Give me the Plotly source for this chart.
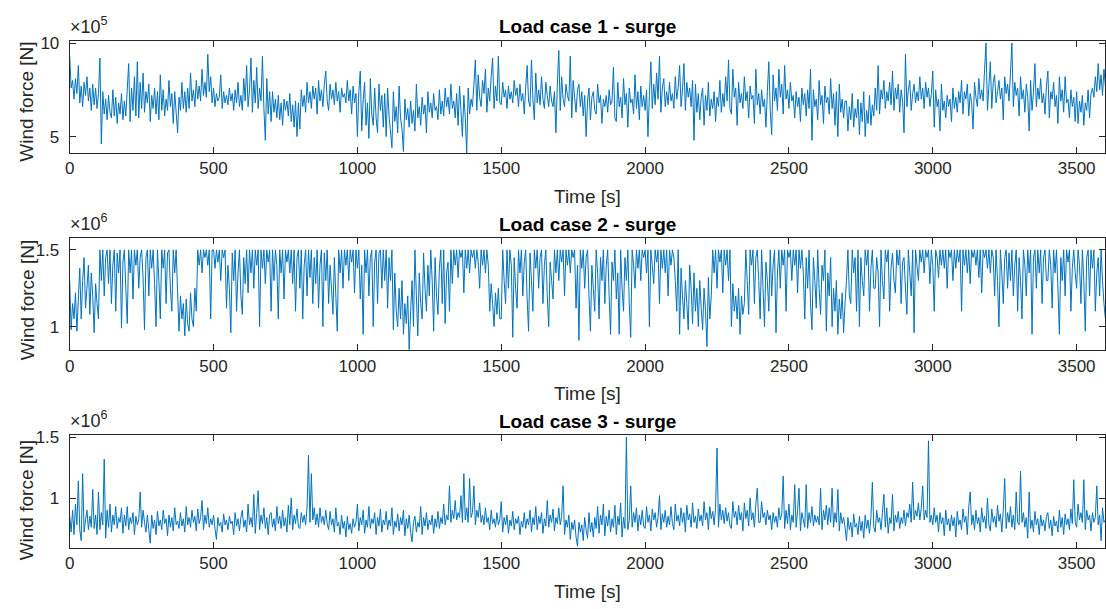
import plotly.graph_objects as go

# ---------------- data (5 s sampling) ----------------
DT = 5  # seconds between samples

# Load case 1 - surge, wind force in units of 1e5 N
surge1_1e5 = [
    9.3, 7.6, 8.0, 7.0, 8.1, 7.3, 8.8, 6.8, 7.7, 6.6, 7.9, 7.2, 8.2, 6.9, 7.6, 6.4, 7.8, 6.7, 7.6, 6.5,
    7.3, 9.2, 4.6, 7.4, 6.2, 7.0, 5.9, 7.2, 6.3, 6.0, 7.5, 6.1, 7.1, 5.7, 6.8, 6.2, 7.3, 5.9, 6.9, 6.1,
    7.5, 8.9, 5.8, 7.6, 6.4, 8.2, 6.1, 9.0, 6.0, 7.9, 6.5, 8.4, 6.3, 7.4, 6.8, 7.8, 5.8, 7.2, 6.5, 7.6,
    6.2, 7.4, 5.9, 8.3, 6.4, 7.5, 6.1, 7.0, 6.4, 8.0, 6.6, 7.3, 5.7, 7.4, 6.3, 5.2, 7.1, 6.4, 7.9, 6.5,
    7.4, 6.3, 7.6, 6.5, 8.4, 6.9, 7.5, 6.6, 8.0, 7.0, 7.7, 6.9, 8.6, 7.2, 7.9, 7.1, 9.4, 7.4, 8.2, 6.8,
    7.6, 6.6, 7.3, 6.9, 7.1, 8.3, 6.5, 7.4, 6.8, 7.2, 6.7, 7.6, 6.9, 7.3, 6.4, 7.5, 6.8, 7.9, 6.6, 7.2,
    6.4, 8.1, 6.9, 8.8, 6.6, 7.5, 9.2, 6.3, 8.0, 6.8, 8.7, 6.5, 7.6, 6.9, 9.3, 6.5, 4.8, 8.1, 6.2, 7.4,
    5.8, 7.4, 6.3, 7.0, 6.0, 7.2, 5.9, 6.8, 5.6, 7.0, 6.4, 6.9, 6.1, 7.3, 5.8, 6.7, 5.5, 6.9, 5.0, 6.8,
    5.4, 7.5, 6.6, 7.2, 6.3, 7.9, 6.8, 7.4, 6.5, 7.7, 7.0, 7.6, 6.2, 8.0, 6.9, 7.5, 6.6, 7.8, 8.5, 6.9,
    6.4, 7.8, 7.0, 7.5, 6.7, 7.9, 6.9, 7.4, 6.3, 7.6, 7.1, 7.3, 6.8, 8.0, 6.9, 7.5, 6.2, 7.7, 6.8, 7.3,
    5.0, 7.4, 8.5, 5.3, 6.9, 7.9, 5.6, 6.8, 4.9, 8.1, 6.2, 5.6, 7.6, 6.0, 5.2, 7.8, 6.4, 7.2, 5.5, 7.3,
    5.0, 7.6, 6.1, 5.3, 4.4, 7.4, 5.8, 6.6, 5.2, 7.7, 6.0, 5.4, 4.2, 7.0, 5.9, 6.5, 5.5, 6.9, 5.7, 6.4,
    5.3, 7.8, 6.0, 6.6, 5.6, 7.1, 6.2, 6.7, 5.2, 7.4, 6.3, 6.8, 6.0, 7.3, 6.4, 6.6, 5.9, 7.5, 6.2, 6.9,
    6.1, 7.6, 6.6, 7.1, 6.2, 7.8, 6.5, 6.9, 6.0, 7.3, 5.6, 7.7, 6.4, 5.0, 7.2, 6.0, 4.1, 7.6, 6.2, 7.0,
    6.6, 7.8, 9.1, 6.4, 8.3, 7.1, 6.6, 8.0, 7.3, 8.6, 6.3, 7.6, 6.9, 8.2, 9.2, 6.5, 7.7, 6.9, 9.3, 6.8,
    6.7, 7.9, 7.1, 7.5, 6.5, 7.7, 7.0, 7.4, 6.8, 8.0, 7.2, 7.6, 6.6, 7.8, 6.9, 7.3, 6.2, 7.6, 8.8, 6.9,
    6.6, 9.1, 7.0, 5.9, 8.4, 6.8, 7.5, 6.7, 8.2, 7.0, 6.5, 7.9, 7.2, 6.6, 7.7, 6.9, 6.6, 7.4, 5.2, 7.8,
    9.6, 6.4, 8.2, 7.0, 6.6, 7.8, 7.2, 6.9, 9.3, 6.0, 8.0, 7.1, 6.3, 7.5, 7.8, 6.6, 7.4, 6.1, 7.2, 5.0,
    6.9, 7.6, 5.9, 7.1, 7.4, 6.4, 6.2, 7.8, 6.8, 7.2, 5.7, 7.0, 6.6, 7.2, 6.3, 7.5, 6.7, 6.9, 8.7, 6.0,
    5.8, 7.9, 6.6, 7.1, 6.0, 8.1, 6.7, 7.3, 5.5, 7.6, 6.8, 7.0, 6.2, 8.3, 6.5, 7.4, 5.9, 7.7, 6.6, 7.2,
    6.4, 7.5, 5.0, 7.2, 9.0, 6.5, 7.8, 6.7, 8.4, 7.0, 9.3, 6.3, 7.6, 8.1, 6.6, 7.4, 6.7, 7.9, 6.9, 7.3,
    6.5, 8.2, 7.0, 7.6, 8.8, 6.6, 7.5, 8.9, 6.4, 7.9, 7.1, 7.6, 6.6, 8.0, 4.8, 7.8, 6.3, 7.3, 5.9, 7.1,
    7.6, 5.6, 7.2, 6.4, 7.9, 6.1, 7.0, 6.5, 7.4, 5.8, 7.1, 6.6, 8.0, 6.3, 7.3, 6.6, 8.2, 6.9, 9.1, 6.5,
    6.2, 8.6, 7.1, 7.6, 5.6, 7.9, 6.8, 7.3, 6.5, 8.2, 6.9, 7.4, 6.0, 7.7, 7.0, 7.2, 5.7, 8.6, 6.7, 7.3,
    6.2, 7.5, 6.6, 7.0, 5.5, 7.4, 9.0, 6.4, 5.1, 8.3, 6.9, 7.6, 6.4, 8.6, 7.1, 7.8, 6.2, 8.8, 7.0, 7.5,
    6.5, 7.9, 6.9, 7.2, 6.0, 7.4, 6.6, 7.1, 5.8, 7.6, 6.7, 7.3, 6.1, 7.5, 6.5, 8.6, 4.8, 7.5, 6.6, 7.0,
    5.9, 8.0, 6.7, 7.2, 5.7, 7.7, 6.8, 7.1, 6.2, 8.1, 6.5, 7.3, 5.6, 7.4, 5.0, 7.8, 6.3, 7.0, 6.0, 6.9,
    6.9, 5.3, 6.6, 5.9, 7.3, 5.5, 6.5, 6.0, 7.0, 5.1, 6.8, 5.8, 7.4, 5.0, 6.4, 5.7, 7.2, 5.6, 6.7, 6.1,
    7.6, 6.4, 8.8, 6.2, 7.5, 7.0, 8.0, 6.5, 7.4, 6.9, 7.9, 6.7, 8.5, 6.4, 7.6, 7.0, 7.8, 6.3, 7.5, 6.9,
    5.2, 9.4, 6.6, 7.5, 8.0, 6.4, 7.3, 7.8, 6.8, 7.4, 6.9, 8.2, 7.0, 7.6, 6.5, 7.9, 7.1, 7.6, 6.6, 7.3,
    8.5, 5.5, 7.5, 6.6, 7.0, 5.3, 7.8, 6.4, 6.9, 6.0, 7.2, 6.6, 7.0, 5.8, 7.6, 6.5, 7.1, 6.3, 7.4, 6.8,
    8.0, 6.2, 7.4, 7.0, 7.8, 6.1, 7.3, 6.8, 5.4, 7.9, 7.1, 6.6, 8.1, 7.0, 7.5, 6.9, 8.6, 10.0, 6.4, 7.7,
    9.0, 6.5, 7.9, 8.3, 6.8, 7.4, 8.0, 7.0, 7.6, 5.9, 8.2, 7.3, 7.8, 6.9, 8.4, 10.0, 6.6, 7.9, 7.2, 7.6,
    6.1, 8.2, 7.0, 7.5, 6.3, 7.8, 7.1, 5.3, 8.0, 6.4, 7.4, 8.9, 6.6, 7.6, 7.0, 8.1, 6.8, 7.3, 6.2, 7.7,
    8.5, 6.0, 7.4, 7.0, 7.9, 6.6, 7.2, 5.7, 8.2, 6.9, 7.5, 6.3, 8.2, 6.8, 7.0, 6.0, 7.5, 6.6, 7.1, 5.8,
    7.4, 5.7, 6.9, 6.3, 7.2, 5.6, 6.8, 6.4, 7.5, 6.0, 7.3, 7.6, 7.1, 8.2, 7.4, 8.9, 7.5, 8.3, 7.2, 8.6,
    7.7,
]

# Load case 2 - surge, wind force in units of 1e6 N
surge2_1e6 = [
    1.30, 0.98, 1.15, 1.05, 1.22, 0.97, 1.18, 1.38, 1.05, 1.30, 1.45, 1.12, 1.25, 1.40, 1.08, 1.35, 1.20, 0.96, 1.28, 1.15,
    1.05, 1.50, 1.30, 1.50, 1.20, 1.45, 1.50, 1.28, 1.50, 1.15, 1.40, 1.50, 1.10, 1.48, 1.35, 1.50, 0.99, 1.42, 1.50, 1.25,
    1.02, 1.50, 1.35, 1.50, 1.18, 1.50, 1.40, 1.50, 1.25, 1.45, 1.50, 1.32, 0.98, 1.45, 1.50, 1.20, 1.50, 1.38, 1.50, 1.28,
    1.00, 1.50, 1.30, 1.05, 1.50, 1.38, 1.50, 1.15, 1.48, 1.50, 1.25, 1.10, 1.50, 1.35, 1.50, 1.22, 0.97, 1.20, 1.05, 1.15,
    0.94, 1.18, 1.02, 0.97, 1.22, 1.05, 1.00, 1.25, 1.10, 1.50, 1.40, 1.50, 1.35, 1.50, 1.45, 1.50, 1.40, 1.50, 1.05, 1.50,
    1.50, 1.38, 1.50, 1.42, 1.50, 1.30, 1.50, 1.45, 1.50, 1.12, 1.40, 1.25, 0.96, 1.48, 1.30, 1.50, 1.10, 1.35, 1.50, 1.20,
    1.08, 1.45, 1.28, 1.50, 1.22, 1.50, 1.35, 1.50, 1.25, 1.50, 1.40, 1.50, 1.00, 1.50, 1.38, 1.50, 1.28, 1.50, 1.42, 1.50,
    1.10, 1.50, 1.30, 1.50, 1.40, 1.05, 1.50, 1.35, 1.50, 1.18, 1.50, 1.42, 1.50, 1.35, 1.50, 1.28, 1.50, 1.10, 1.45, 1.50,
    1.25, 1.50, 1.05, 1.40, 1.50, 1.20, 1.50, 1.32, 1.50, 1.15, 1.45, 1.28, 1.50, 1.12, 1.40, 1.50, 1.00, 1.48, 1.30, 1.50,
    1.15, 1.40, 1.25, 1.08, 1.45, 1.20, 0.97, 1.50, 1.35, 1.50, 1.25, 1.50, 1.40, 1.50, 1.30, 1.50, 1.42, 1.50, 1.22, 1.50,
    1.38, 1.50, 1.18, 1.40, 0.95, 1.50, 1.35, 1.50, 1.20, 1.45, 1.50, 1.00, 1.42, 1.50, 1.15, 1.48, 1.50, 1.25, 1.50, 1.30,
    1.50, 1.12, 1.45, 1.30, 1.50, 0.98, 1.35, 1.10, 1.00, 1.25, 1.05, 1.30, 0.95, 1.15, 1.02, 1.20, 0.85, 1.10, 1.30, 1.00,
    1.50, 1.20, 0.94, 1.35, 1.15, 1.05, 1.48, 1.25, 1.10, 1.40, 1.20, 1.50, 1.30, 0.97, 1.45, 1.20, 1.08, 1.38, 1.50, 1.15,
    1.50, 1.02, 1.35, 1.42, 1.10, 1.50, 1.28, 1.50, 1.40, 1.50, 1.32, 1.50, 1.45, 1.50, 1.22, 1.50, 1.38, 1.50, 1.35, 1.50,
    1.45, 1.50, 1.38, 1.50, 1.42, 1.25, 1.50, 1.40, 1.50, 1.35, 1.50, 1.40, 1.10, 1.28, 1.15, 1.00, 1.22, 1.08, 1.25, 1.05,
    1.05, 1.50, 1.30, 1.15, 1.50, 1.25, 1.50, 1.40, 0.93, 1.45, 1.25, 1.12, 1.50, 1.35, 1.50, 1.20, 1.42, 1.50, 1.18, 0.97,
    1.48, 1.30, 1.10, 1.50, 1.38, 1.50, 1.25, 1.45, 1.50, 1.15, 1.40, 1.50, 1.20, 1.00, 1.42, 1.30, 1.18, 1.50, 1.35, 1.50,
    1.30, 1.50, 1.42, 1.50, 1.20, 1.50, 1.40, 1.50, 1.35, 1.50, 1.45, 1.50, 1.12, 1.40, 0.91, 1.50, 1.38, 1.50, 1.25, 1.45,
    1.50, 1.20, 0.97, 1.40, 1.25, 1.10, 1.50, 1.35, 1.05, 1.45, 1.30, 1.50, 1.15, 1.40, 1.50, 1.20, 0.95, 1.42, 1.30, 1.50,
    1.18, 1.35, 0.95, 1.50, 1.25, 1.10, 1.45, 1.30, 1.50, 1.15, 0.93, 1.50, 1.40, 1.25, 1.50, 1.38, 1.50, 1.30, 1.50, 1.45,
    1.50, 1.35, 1.50, 1.00, 1.50, 1.40, 1.28, 1.50, 1.42, 1.50, 1.15, 1.50, 1.38, 1.50, 1.35, 1.50, 1.20, 1.50, 1.40, 1.50,
    1.45, 1.30, 1.10, 1.50, 0.95, 1.38, 1.20, 1.05, 1.30, 1.15, 0.98, 1.40, 1.25, 1.02, 1.35, 1.10, 1.25, 1.00, 1.30, 1.12,
    0.98, 1.25, 1.10, 0.87, 1.32, 1.05, 1.20, 1.50, 1.35, 1.50, 1.25, 1.50, 1.42, 1.50, 1.22, 1.50, 1.40, 1.50, 1.30, 1.50,
    1.00, 1.28, 1.10, 1.20, 1.05, 1.25, 0.95, 1.20, 1.08, 1.15, 1.50, 1.30, 1.08, 1.50, 1.40, 1.50, 1.15, 1.45, 1.50, 1.30,
    1.05, 1.50, 1.25, 1.00, 1.42, 1.30, 1.10, 1.50, 1.20, 1.40, 1.50, 0.96, 1.35, 1.50, 1.25, 1.50, 1.40, 1.50, 1.10, 1.50,
    1.45, 1.50, 1.30, 1.50, 1.40, 1.50, 1.22, 1.50, 1.38, 1.50, 1.35, 1.05, 1.45, 1.25, 1.50, 1.15, 0.98, 1.45, 1.30, 1.12,
    1.50, 1.25, 1.08, 1.40, 1.30, 1.50, 0.97, 1.35, 1.20, 1.45, 1.00, 1.25, 1.10, 1.30, 0.95, 1.18, 1.05, 1.22, 0.96, 1.15,
    1.30, 1.50, 1.20, 1.15, 1.50, 1.35, 1.45, 1.10, 1.50, 1.00, 1.45, 1.30, 1.20, 1.50, 1.40, 1.50, 1.10, 1.38, 1.50, 1.25,
    1.25, 1.45, 1.35, 1.00, 1.50, 1.30, 1.18, 1.50, 1.42, 1.50, 1.10, 1.38, 1.48, 1.30, 1.22, 1.50, 1.40, 1.50, 1.15, 1.42,
    1.45, 1.25, 1.08, 1.50, 1.35, 1.20, 1.50, 0.96, 1.50, 1.40, 1.30, 1.50, 1.42, 1.50, 1.35, 1.50, 1.45, 1.50, 1.28, 1.50,
    1.40, 1.10, 1.50, 1.45, 1.32, 1.50, 1.40, 1.50, 1.38, 1.50, 1.25, 1.50, 1.45, 1.50, 1.30, 1.50, 1.38, 1.50, 1.42, 1.50,
    1.10, 1.50, 1.40, 1.50, 1.35, 1.50, 1.28, 1.50, 1.45, 1.50, 1.40, 1.50, 1.32, 1.50, 1.22, 1.50, 1.45, 1.50, 1.38, 1.50,
    1.35, 1.50, 1.45, 1.20, 1.50, 1.30, 1.00, 1.50, 1.35, 1.15, 1.45, 1.50, 1.25, 1.48, 1.30, 1.50, 1.20, 1.40, 1.50, 1.10,
    1.45, 1.30, 1.05, 1.50, 1.40, 1.20, 1.50, 1.35, 1.50, 0.95, 1.45, 1.50, 1.25, 1.50, 1.35, 1.50, 1.15, 1.45, 1.50, 1.30,
    1.30, 1.50, 1.40, 1.12, 1.50, 1.35, 1.50, 1.25, 0.95, 1.45, 1.30, 1.50, 1.20, 1.50, 1.42, 1.50, 1.10, 1.38, 1.50, 1.35,
    1.25, 1.50, 1.40, 1.15, 1.50, 1.30, 0.97, 1.45, 1.50, 1.20, 1.50, 1.38, 1.50, 1.10, 1.35, 1.45, 1.20, 1.50, 1.30, 1.15,
    1.05,
]

# Load case 3 - surge, wind force in units of 1e6 N
surge3_1e6 = [
    0.85, 0.72, 0.90, 0.70, 0.95, 0.78, 1.14, 0.74, 0.65, 1.20, 0.72, 0.82, 0.90, 0.74, 0.85, 0.76, 1.07, 0.75, 0.86, 0.70,
    1.05, 0.74, 0.88, 0.78, 1.32, 0.67, 0.90, 0.76, 0.95, 0.72, 0.86, 0.78, 0.93, 0.75, 0.84, 0.80, 0.92, 0.71, 0.86, 0.77,
    0.93, 0.74, 0.84, 0.79, 0.88, 0.70, 0.85, 0.78, 0.82, 1.05, 0.76, 0.90, 0.80, 0.72, 0.86, 0.74, 0.63, 0.86, 0.75, 0.82,
    0.70, 0.89, 0.77, 0.82, 0.74, 0.90, 0.79, 0.83, 0.69, 0.86, 0.76, 0.84, 0.73, 0.92, 0.78, 0.81, 0.75, 0.88, 0.77, 0.83,
    0.72, 0.93, 0.78, 0.84, 0.76, 0.90, 0.80, 0.85, 0.73, 0.91, 0.79, 0.84, 0.98, 0.74, 0.86, 0.79, 0.92, 0.76, 0.83, 0.78,
    0.86, 0.75, 0.66, 0.84, 0.77, 0.80, 0.72, 0.87, 0.78, 0.82, 0.74, 0.85, 0.79, 0.81, 0.70, 0.88, 0.77, 0.83, 0.73, 0.84,
    0.90, 0.76, 0.82, 0.72, 0.95, 0.78, 0.84, 0.76, 1.03, 0.71, 0.88, 1.06, 0.74, 0.86, 0.79, 0.92, 0.75, 0.84, 0.70, 0.86,
    0.88, 0.76, 0.83, 0.73, 0.93, 0.79, 0.85, 0.75, 0.90, 0.77, 0.84, 0.72, 0.94, 0.78, 1.00, 0.74, 0.86, 0.79, 0.91, 0.76,
    0.75, 0.88, 0.80, 0.86, 0.78, 0.92, 1.35, 0.80, 1.20, 0.82, 0.92, 0.78, 0.87, 0.76, 0.92, 0.80, 0.85, 0.78, 0.90, 0.79,
    0.74, 0.89, 0.78, 0.83, 0.72, 0.92, 0.77, 0.80, 0.70, 0.86, 0.75, 0.81, 0.68, 0.85, 0.74, 0.79, 0.71, 0.83, 0.76, 0.80,
    0.95, 0.73, 0.84, 0.78, 0.90, 0.71, 0.82, 0.76, 0.93, 0.75, 0.83, 0.79, 0.88, 0.70, 0.84, 0.77, 0.91, 0.72, 0.82, 0.78,
    0.89, 0.74, 0.82, 0.77, 0.92, 0.70, 0.81, 0.76, 0.87, 0.73, 0.84, 0.78, 0.90, 0.69, 0.83, 0.75, 0.86, 0.72, 0.64, 0.80,
    0.85, 0.72, 0.80, 0.76, 0.93, 0.70, 0.84, 0.77, 0.88, 0.74, 0.82, 0.78, 0.86, 0.71, 0.83, 0.76, 0.89, 0.75, 0.84, 0.79,
    0.95, 0.78, 0.86, 0.82, 1.10, 0.80, 0.90, 0.83, 0.98, 0.82, 0.88, 0.84, 1.02, 0.80, 1.20, 0.82, 0.92, 0.80, 1.16, 0.84,
    0.88, 1.10, 0.78, 0.90, 0.84, 0.96, 0.80, 0.86, 0.78, 0.92, 0.80, 0.84, 0.74, 0.90, 0.79, 0.83, 0.76, 0.88, 0.78, 0.82,
    0.97, 0.72, 0.84, 0.78, 0.86, 0.71, 0.82, 0.77, 0.89, 0.74, 0.83, 0.79, 0.85, 0.70, 0.81, 0.76, 0.88, 0.75, 0.83, 0.78,
    0.90, 0.72, 0.84, 0.78, 0.93, 0.74, 0.85, 0.79, 0.88, 0.71, 0.83, 0.77, 0.98, 0.76, 0.86, 0.80, 0.91, 0.73, 0.84, 0.79,
    0.92, 0.78, 0.85, 1.10, 0.70, 0.82, 0.76, 0.86, 0.66, 0.80, 0.74, 0.82, 0.68, 0.605, 0.80, 0.72, 0.78, 0.65, 0.84, 0.74,
    0.67, 0.88, 0.72, 0.80, 0.68, 0.84, 0.75, 0.93, 0.71, 0.86, 0.78, 0.95, 0.69, 0.85, 0.77, 0.90, 0.72, 0.83, 0.76, 0.94,
    0.70, 0.85, 0.78, 0.96, 0.68, 0.84, 0.75, 1.50, 0.74, 0.82, 1.10, 0.76, 0.88, 0.80, 0.92, 0.73, 0.86, 0.78, 0.90, 0.77,
    0.75, 0.93, 0.80, 0.86, 0.73, 0.91, 0.82, 0.88, 0.76, 0.84, 1.02, 0.74, 0.87, 0.80, 0.90, 0.76, 0.85, 0.78, 0.93, 0.79,
    0.74, 0.95, 0.81, 0.86, 0.77, 0.92, 0.80, 0.88, 0.72, 0.94, 0.82, 0.87, 0.76, 0.96, 0.80, 0.85, 0.75, 0.91, 0.81, 0.86,
    0.77, 0.97, 0.82, 0.88, 0.74, 0.93, 0.83, 0.89, 0.78, 0.92, 1.41, 0.76, 0.95, 0.82, 0.90, 0.79, 0.92, 0.81, 0.88, 0.77,
    0.75, 0.97, 0.84, 0.89, 0.78, 0.94, 0.82, 0.88, 0.73, 0.96, 0.83, 0.90, 0.77, 1.00, 0.82, 0.88, 0.76, 0.95, 1.08, 0.80,
    0.80, 0.97, 0.84, 0.88, 0.78, 0.90, 0.82, 0.86, 0.74, 0.88, 0.80, 0.85, 0.76, 0.92, 0.82, 0.87, 1.18, 0.75, 0.90, 0.79,
    0.95, 0.74, 0.86, 0.80, 1.11, 0.76, 0.90, 1.08, 0.73, 0.88, 0.82, 0.76, 1.11, 0.75, 0.88, 0.80, 0.93, 0.77, 0.86, 0.80,
    0.85, 0.78, 1.08, 0.74, 0.90, 0.82, 0.94, 0.78, 0.92, 0.80, 1.08, 0.76, 0.88, 0.80, 1.07, 0.73, 0.88, 0.79, 0.84, 0.76,
    0.65, 0.84, 0.74, 0.80, 0.68, 0.87, 0.76, 0.79, 0.70, 0.85, 0.73, 0.81, 0.67, 0.86, 0.75, 0.82, 0.71, 0.84, 1.13, 0.76,
    0.72, 0.90, 0.80, 0.84, 0.74, 0.88, 1.03, 0.76, 0.92, 0.71, 0.84, 0.79, 1.03, 0.73, 0.86, 0.80, 0.89, 0.75, 0.84, 0.79,
    0.90, 0.77, 0.88, 0.84, 0.95, 0.80, 1.13, 0.82, 0.90, 0.85, 0.96, 0.82, 0.92, 1.10, 0.82, 0.90, 0.84, 1.47, 0.80, 0.86,
    0.78, 0.92, 0.80, 0.86, 0.72, 0.88, 0.79, 0.84, 0.69, 0.90, 0.78, 0.83, 0.73, 0.86, 0.77, 0.84, 0.68, 0.89, 0.78, 0.82,
    0.74, 0.91, 0.80, 0.85, 0.70, 0.93, 1.05, 0.78, 0.86, 0.74, 0.90, 0.79, 0.84, 0.72, 0.92, 0.80, 0.85, 0.75, 1.00, 0.78,
    0.73, 0.91, 0.80, 0.85, 0.76, 0.94, 0.81, 0.87, 0.72, 0.90, 1.16, 0.75, 0.88, 0.80, 0.93, 0.76, 0.86, 0.74, 1.05, 0.80,
    0.78, 1.22, 0.80, 0.88, 0.76, 0.84, 0.67, 1.05, 0.75, 0.82, 0.72, 0.89, 0.78, 0.83, 0.70, 0.86, 0.77, 0.82, 0.73, 0.85,
    0.88, 0.75, 0.82, 0.69, 0.85, 0.77, 0.81, 0.72, 0.90, 0.76, 0.84, 0.70, 0.87, 0.78, 0.83, 0.74, 0.91, 0.79, 1.15, 0.80,
    0.76, 0.95, 0.82, 0.88, 0.80, 1.15, 0.74, 0.90, 0.82, 0.86, 0.73, 0.88, 0.80, 0.84, 1.10, 0.78, 0.86, 0.65, 0.92, 0.80,
    0.82,
]

titles = ["Load case 1 - surge", "Load case 2 - surge", "Load case 3 - surge"]
exponents = ["5", "6", "6"]
y_ranges = [[4.12, 10.12], [0.845, 1.576], [0.592, 1.514]]
y_ticks = [[5, 10], [1, 1.5], [1, 1.5]]
x_ticks = [0, 500, 1000, 1500, 2000, 2500, 3000, 3500]
series = [surge1_1e5, surge2_1e6, surge3_1e6]

# ---------------- layout geometry (pixels) ----------------
W, H = 1106, 609
x_left, x_right = 65, 1105.4
panels_px = [(34.2, 147.7), (233.9, 347.4), (433.4, 547.0)]
ylabel_shift = [5, 6, 9]


def py(p):
    return 1 - p / H


def px(p):
    return p / W


FONT = "Liberation Sans, Arial, Helvetica, sans-serif"
AX_COLOR = "#262626"
LINE_COLOR = "#0072BD"

fig = go.Figure()
layout = dict(
    width=W, height=H, autosize=False,
    margin=dict(l=0, r=0, t=0, b=0, pad=0),
    paper_bgcolor="white", plot_bgcolor="white",
    showlegend=False,
    font=dict(family=FONT, size=17, color=AX_COLOR),
    annotations=[],
)

for i, (vals, title, ex, yr, yt) in enumerate(zip(series, titles, exponents, y_ranges, y_ticks)):
    n = "" if i == 0 else str(i + 1)
    t = [k * DT for k in range(len(vals))]
    fig.add_trace(go.Scatter(
        x=t, y=vals, mode="lines",
        line=dict(color=LINE_COLOR, width=1, simplify=False),
        xaxis="x" + n, yaxis="y" + n, hoverinfo="skip",
    ))
    top, bot = panels_px[i]
    common = dict(
        showline=True, linecolor=AX_COLOR, linewidth=1, mirror="allticks",
        ticks="inside", ticklen=6, tickcolor=AX_COLOR, tickwidth=1,
        showgrid=False, zeroline=False,
        tickfont=dict(family=FONT, size=17, color=AX_COLOR),
    )
    layout["xaxis" + n] = dict(
        domain=[px(x_left), px(x_right)], anchor="y" + n,
        range=[0, 3600], tickvals=x_ticks, **common,
    )
    layout["yaxis" + n] = dict(
        domain=[py(bot), py(top)], anchor="x" + n,
        range=yr, tickvals=yt, ticklabelstandoff=6, **common,
    )
    # panel title
    layout["annotations"].append(dict(
        text="<b>" + title + "</b>", x=px((x_left + x_right) / 2), y=py(top - 14),
        xref="paper", yref="paper", showarrow=False, xanchor="center", yanchor="middle",
        font=dict(family=FONT, size=19, color="black"),
    ))
    # x label
    layout["annotations"].append(dict(
        text="Time [s]", x=px((x_left + x_right) / 2), y=py(bot + 44),
        xref="paper", yref="paper", showarrow=False, xanchor="center", yanchor="middle",
        font=dict(family=FONT, size=19, color=AX_COLOR),
    ))
    # y label
    layout["annotations"].append(dict(
        text="Wind force [N]", x=px(22), y=py((top + bot) / 2 + ylabel_shift[i]),
        xref="paper", yref="paper", showarrow=False, xanchor="center", yanchor="middle",
        textangle=-90, font=dict(family=FONT, size=19, color=AX_COLOR),
    ))
    # exponent multiplier
    layout["annotations"].append(dict(
        text="×10<sup>" + ex + "</sup>", x=px(63), y=py(top - 2),
        xref="paper", yref="paper", showarrow=False, xanchor="left", yanchor="bottom",
        font=dict(family=FONT, size=18, color=AX_COLOR),
    ))

fig.update_layout(**layout)
fig.write_html(
    "out.html",
    config={"displayModeBar": False},
    post_script="document.body.style.margin='0px';document.body.style.overflow='hidden';",
)
